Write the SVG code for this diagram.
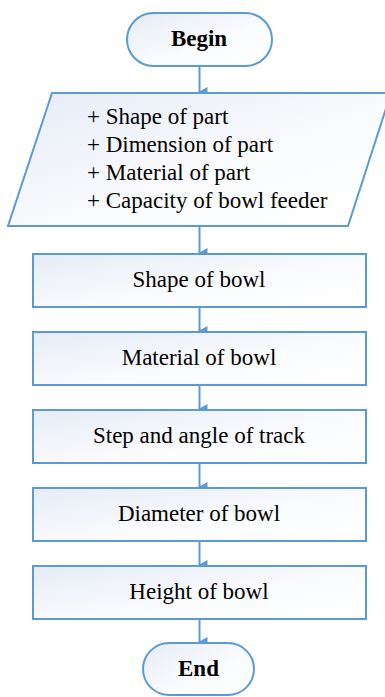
<svg xmlns="http://www.w3.org/2000/svg" width="385" height="697" viewBox="0 0 385 697">
<defs>
<linearGradient id="g" x1="0" y1="0" x2="1" y2="1">
<stop offset="0" stop-color="#e6ebf6"/>
<stop offset="0.6" stop-color="#fbfcfe"/>
<stop offset="1" stop-color="#ffffff"/>
</linearGradient>
<marker id="ah" markerWidth="10" markerHeight="10" refX="5" refY="8" orient="auto" markerUnits="userSpaceOnUse" viewBox="0 0 10 10">
<path d="M0,0 L10,0 L5,9 Z" fill="#5b9bd5"/>
</marker>
</defs>
<rect width="385" height="697" fill="#ffffff"/>
<g id="connectors" stroke="#5b9bd5" stroke-width="2" fill="none" marker-end="url(#ah)">
<line x1="199.5" y1="66" x2="199.5" y2="92"/>
<line x1="199.5" y1="226" x2="199.5" y2="253"/>
<line x1="199.5" y1="307" x2="199.5" y2="331"/>
<line x1="199.5" y1="385" x2="199.5" y2="409"/>
<line x1="199.5" y1="463" x2="199.5" y2="487"/>
<line x1="199.5" y1="541" x2="199.5" y2="565"/>
<line x1="199.5" y1="619" x2="199.5" y2="642"/>
</g>
<g id="begin">
<rect x="127" y="13" width="145" height="53" rx="26.5" fill="url(#g)" stroke="#5b9bd5" stroke-width="2"/>
<text x="199" y="46" font-size="23" font-family="Liberation Serif" font-weight="bold" text-anchor="middle">Begin</text>
</g>
<g id="input">
<polygon points="52,93 391,93 348,226 8,226" fill="url(#g)" stroke="#5b9bd5" stroke-width="2"/>
<text x="87" y="124" font-size="23" font-family="Liberation Serif">+ Shape of part</text>
<text x="87" y="152" font-size="23" font-family="Liberation Serif">+ Dimension of part</text>
<text x="87" y="180" font-size="23" font-family="Liberation Serif">+ Material of part</text>
<text x="87" y="208" font-size="23" font-family="Liberation Serif">+ Capacity of bowl feeder</text>
</g>
<g id="shape">
<rect x="33" y="254" width="333" height="53" fill="url(#g)" stroke="#5b9bd5" stroke-width="2"/>
<text x="199" y="287" font-size="23" font-family="Liberation Serif" text-anchor="middle">Shape of bowl</text>
</g>
<g id="material">
<rect x="33" y="332" width="333" height="53" fill="url(#g)" stroke="#5b9bd5" stroke-width="2"/>
<text x="199" y="365" font-size="23" font-family="Liberation Serif" text-anchor="middle">Material of bowl</text>
</g>
<g id="step">
<rect x="33" y="410" width="333" height="53" fill="url(#g)" stroke="#5b9bd5" stroke-width="2"/>
<text x="199" y="443" font-size="23" font-family="Liberation Serif" text-anchor="middle">Step and angle of track</text>
</g>
<g id="diameter">
<rect x="33" y="488" width="333" height="53" fill="url(#g)" stroke="#5b9bd5" stroke-width="2"/>
<text x="199" y="521" font-size="23" font-family="Liberation Serif" text-anchor="middle">Diameter of bowl</text>
</g>
<g id="height">
<rect x="33" y="566" width="333" height="53" fill="url(#g)" stroke="#5b9bd5" stroke-width="2"/>
<text x="199" y="599" font-size="23" font-family="Liberation Serif" text-anchor="middle">Height of bowl</text>
</g>
<g id="end">
<rect x="143" y="643" width="111" height="52" rx="26" fill="url(#g)" stroke="#5b9bd5" stroke-width="2"/>
<text x="198.5" y="676" font-size="23" font-family="Liberation Serif" font-weight="bold" text-anchor="middle">End</text>
</g>
</svg>
